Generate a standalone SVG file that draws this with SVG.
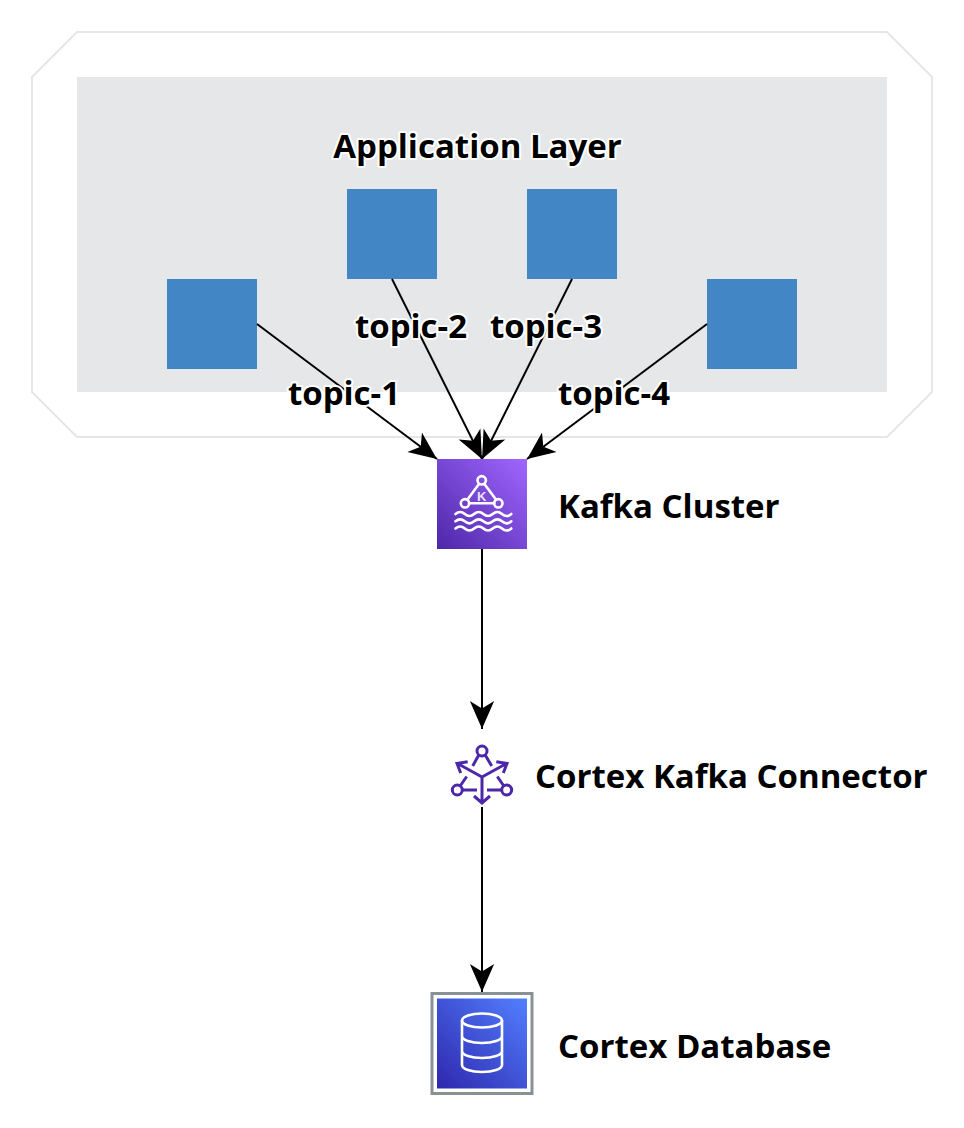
<svg xmlns="http://www.w3.org/2000/svg" width="964" height="1128" viewBox="0 0 964 1128">
<style>
.lbl{font-family:"Open Sans","Noto Sans",sans-serif;font-weight:700;font-size:33px;fill:#000;stroke:#fff;stroke-width:4px;paint-order:stroke;stroke-linejoin:round}
.app{fill:#4286c5}
.c{fill:none;stroke:#000;stroke-width:2;marker-end:url(#ah)}
.w{fill:none;stroke:#fff;stroke-width:2.600;stroke-linecap:round}
.p{fill:none;stroke:#4d27aa;stroke-width:3}
</style>
<defs>
<marker id="ah" markerUnits="userSpaceOnUse" markerWidth="30" markerHeight="24" refX="27" refY="12" orient="auto" viewBox="0 0 30 24" overflow="visible">
<path d="M1 1.500L25 12L1 22.500L7.500 12Z" fill="#000" stroke="#000" stroke-width="1.500"/>
</marker>
<linearGradient id="k" x1="0" y1="1" x2="1" y2="0"><stop offset="0" stop-color="#4d27a8"/><stop offset="1" stop-color="#a166ff"/></linearGradient>
<linearGradient id="d" x1="0" y1="1" x2="1" y2="0"><stop offset="0" stop-color="#2e27ad"/><stop offset="1" stop-color="#527fff"/></linearGradient>
</defs>
<rect width="964" height="1128" fill="#fff"/>
<g id="outer"><path d="M77 32H887L932 77V392L887 437H77L32 392V77Z" fill="#fff" stroke="#e6e6e6" stroke-width="2"/></g>
<g id="layer"><rect x="77" y="77" width="810" height="315" fill="#e6e7e9"/></g>
<g id="app1"><rect class="app" x="167" y="279" width="90" height="90"/></g>
<g id="app2"><rect class="app" x="347" y="189" width="90" height="90"/></g>
<g id="app3"><rect class="app" x="527" y="189" width="90" height="90"/></g>
<g id="app4"><rect class="app" x="707" y="279" width="90" height="90"/></g>
<g id="connectors">
<path class="c" d="M257 324L437 459"/>
<path class="c" d="M392 279L482 459"/>
<path class="c" d="M572 279L482 459"/>
<path class="c" d="M707 324L527 459"/>
<path class="c" d="M482 549V729"/>
<path class="c" d="M482 807V992"/>
</g>
<g id="kafka">
<rect x="437" y="459" width="90" height="90" fill="url(#k)"/>
<g class="w">
<circle cx="481.700" cy="480.300" r="4.200"/><circle cx="465" cy="503.300" r="4.200"/><circle cx="498.300" cy="503.300" r="4.200"/>
<path d="M479 484L467.500 499.500M484.400 484L496 499.500M469 503.300H494.300"/>
<path d="M455.500 514q4.650-4 9.300 0t9.300 0t9.300 0t9.300 0t9.300 0t9.300 0"/>
<path d="M455.500 521.300q4.650-4 9.300 0t9.300 0t9.300 0t9.300 0t9.300 0t9.300 0"/>
<path d="M455.500 528.500q4.650-4 9.300 0t9.300 0t9.300 0t9.300 0t9.300 0t9.300 0"/>
</g>
<text x="481.700" y="501" text-anchor="middle" font-family="'Liberation Sans',sans-serif" font-weight="700" font-size="13" fill="#fff" fill-opacity="0.850">K</text>
</g>
<g id="connector-icon" class="p">
<circle cx="482" cy="751" r="5"/><circle cx="457.300" cy="790" r="5"/><circle cx="506.700" cy="790" r="5"/>
<path d="M478.500 755.500L472.700 766M485.500 755.500L491.700 766M460.500 785.500L466.700 776.500M503.500 785.500L497.300 776.500M462.300 790H477M487 790H501.700"/>
<path d="M482 777V802.500M474 796L482 803L490 796M482 777L457.500 763.500M482 777L506.500 763.500M467.700 761.700L457 763.500L460.700 773M496.300 761.700L507 763.500L503.300 773"/>
</g>
<g id="db">
<rect x="432" y="993.500" width="100" height="100" fill="#fff" stroke="#879196" stroke-width="3"/>
<rect x="437" y="998.500" width="90" height="90" fill="url(#d)"/>
<g class="w">
<ellipse cx="482" cy="1020.500" rx="20" ry="7"/>
<path d="M462 1020.500V1065c0 4 9 7 20 7s20-3 20-7V1020.500M462 1036c0 4 9 7 20 7s20-3 20-7M462 1051c0 4 9 7 20 7s20-3 20-7"/>
</g>
</g>
<g id="labels">
<text class="lbl" x="477.500" y="158" text-anchor="middle">Application Layer</text>
<text class="lbl" x="411" y="338" text-anchor="middle">topic-2</text>
<text class="lbl" x="546" y="338" text-anchor="middle">topic-3</text>
<text class="lbl" x="344" y="405" text-anchor="middle">topic-1</text>
<text class="lbl" x="614" y="405" text-anchor="middle">topic-4</text>
<text class="lbl" x="558" y="518">Kafka Cluster</text>
<text class="lbl" x="535" y="788">Cortex Kafka Connector</text>
<text class="lbl" x="558" y="1058">Cortex Database</text>
</g>
</svg>
